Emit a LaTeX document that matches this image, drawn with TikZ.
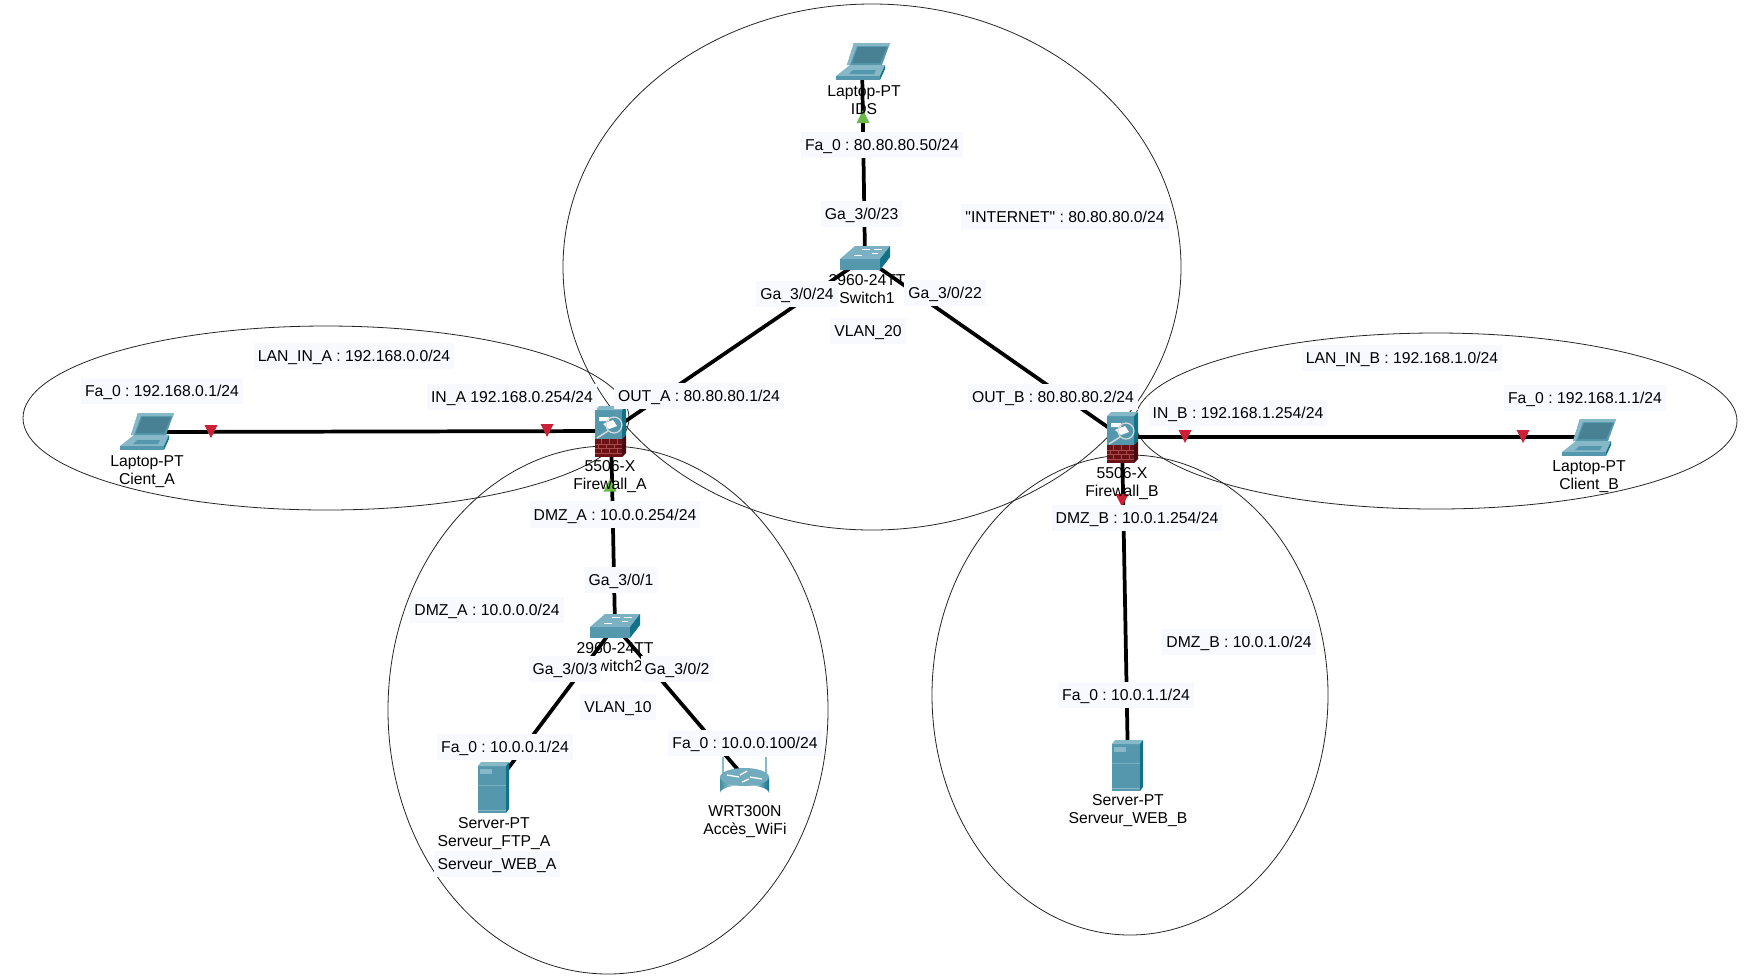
\documentclass[tikz,border=0pt]{standalone}
\usepackage{fontspec}
\setmainfont[Ligatures=TeXOff]{Liberation Sans}
\frenchspacing
\definecolor{tealmain}{HTML}{5598AE}
\definecolor{teallight}{HTML}{86B8C8}
\definecolor{tealdark}{HTML}{0F7289}
\definecolor{brick}{HTML}{6B1216}
\definecolor{brickdark}{HTML}{470B0E}
\definecolor{brickline}{HTML}{A84A4A}
\definecolor{labelbg}{HTML}{F8F9FF}
\definecolor{redmark}{HTML}{CB2036}
\definecolor{greenmark}{HTML}{6CB84A}
\tikzset{
  x=0.75pt,y=-0.75pt,
  zone/.style={draw=black!85,line width=0.6pt},
  wire/.style={draw=black,line width=2.8pt},
  netlabel/.style={fill=labelbg,inner xsep=3pt,inner ysep=0pt,minimum height=20.2pt,text depth=1.6pt,text height=10.4pt,font=\fontsize{11.8}{13.8}\selectfont},
  devlabel/.style={align=center,inner sep=0pt,yshift=-0.6pt,font=\fontsize{11.8}{13.6}\selectfont},
  lapicon/.pic={
    \fill[tealmain] (18,0)--(54,0)--(46,22)--(11,22)--cycle;
    \fill[teallight] (18,0)--(54,0)--(53,3)--(17,3)--cycle;
    \fill[teallight] (18,0)--(11,22)--(14,22)--(21,3)--cycle;
    \fill[tealmain!85!black] (22,4)--(51,4)--(44,20)--(16,20)--cycle;
    \fill[teallight] (14,22)--(49,22)--(44,33)--(0,33)--cycle;
    \fill[tealmain] (0,33)--(44,33)--(44,37)--(0,37)--cycle;
    \fill[tealdark] (44,33)--(49,22)--(49,26)--(44,37)--cycle;
    \fill[tealmain] (17,27)--(40,27)--(38,31)--(13,31)--cycle;
  },
  srvicon/.pic={
    \fill[tealmain] (0,4) rectangle (28,51);
    \fill[teallight] (0,4)--(3,0)--(31,0)--(28,4)--cycle;
    \fill[tealdark] (28,4)--(31,0)--(31,47)--(28,51)--cycle;
    \fill[teallight] (2,7) rectangle (14,12);
    \draw[teallight,line width=0.5pt] (0,48)--(28,48);
    \draw[teallight!70!tealmain,line width=0.3pt] (0,23)--(28,23);
  },
  swicon/.pic={
    \fill[tealmain] (0,13) rectangle (40,24);
    \fill[teallight!80!tealmain] (0,13)--(15,0)--(50,0)--(40,13)--cycle;
    \fill[tealdark] (40,13)--(50,0)--(50,11)--(40,24)--cycle;
    \draw[white,line width=0.6pt] (22,3)--(30,3) (34,3)--(42,3) (14,9)--(22,9) (32,7)--(38,7);
  },
  fwicon/.pic={
    \fill[tealmain] (0,4) rectangle (27,33);
    \fill[teallight] (0,4)--(4,0)--(31,0)--(27,4)--cycle;
    \fill[tealdark] (27,4)--(31,0)--(31,29)--(27,33)--cycle;
    \fill[white] (4,11)--(14,11)--(14,15)--(4,15)--cycle (8,18)--(18,14)--(22,20)--(14,23)--cycle;
    \draw[white!85!black,line width=0.9pt] (19,19) circle[radius=8];
    \draw[white!85!black,line width=1.1pt] (13,25)--(2,32);
    \fill[brick] (0,33) rectangle (27,51);
    \fill[brickdark] (27,33)--(31,29)--(31,47)--(27,51)--cycle;
    \draw[brickline,line width=0.3pt] (0,38)--(27,38) (0,42.5)--(27,42.5) (0,47)--(27,47)
      (6,33)--(6,38) (14,33)--(14,38) (22,33)--(22,38) (3,38)--(3,42.5) (11,38)--(11,42.5) (19,38)--(19,42.5)
      (6,42.5)--(6,47) (14,42.5)--(14,47) (22,42.5)--(22,47);
  },
  rticon/.pic={
    \fill[teallight] (2,0) rectangle (4,16);
    \fill[teallight] (45,0) rectangle (47,16);
    \shade[left color=tealdark!80,right color=tealdark,middle color=white] (0,20) -- (0,36) arc[start angle=180,end angle=360,x radius=24.5,y radius=8] -- (49,20) -- cycle;
    \fill[teallight!60!tealmain] (24.5,20) ellipse[x radius=24.5,y radius=9];
    \draw[white,line width=1pt] (7,18)--(19,20) (30,20)--(42,22) (22,25)--(29,22) (20,18)--(27,14);
  },
  downmark/.pic={\fill[redmark] (-6.5,-6.5)--(6.5,-6.5)--(0,6.5)--cycle;},
  upmark/.pic={\fill[greenmark] (-6.5,6.5)--(6.5,6.5)--(0,-6.5)--cycle;},
}
\begin{document}
\begin{tikzpicture}
\useasboundingbox (0,0) rectangle (1747,976);
\fill[white] (0,0) rectangle (1747,976);
% zones
\draw[zone] (872,267) ellipse[x radius=309,y radius=263];
\draw[zone] (326,418) ellipse[x radius=303,y radius=92];
\draw[zone] (608,710) ellipse[x radius=220,y radius=264];
\draw[zone] (1436,421) ellipse[x radius=301,y radius=88];
\draw[zone] (1130,695) ellipse[x radius=198,y radius=240];
% device anchors
\coordinate (fwA) at (611,431);
\coordinate (fwB) at (1122,437);
\coordinate (swOne) at (865,258);
\coordinate (swTwo) at (615,626);
\coordinate (ids) at (862,60);
\coordinate (clientA) at (147,432);
\coordinate (clientB) at (1589,437);
\coordinate (srvA) at (494,787);
\coordinate (srvB) at (1128,766);
\coordinate (wifi) at (745,778);
% connectors
\draw[wire] (clientA) -- (fwA);
\draw[wire] (fwB) -- (clientB);
\draw[wire] (fwA) -- (swOne);
\draw[wire] (fwB) -- (swOne);
\draw[wire] (ids) -- (swOne);
\draw[wire] (fwA) -- (swTwo);
\draw[wire] (swTwo) -- (srvA);
\draw[wire] (swTwo) -- (wifi);
\draw[wire] (fwB) -- (srvB);
% link marks
\pic at (211,431.5) {downmark};
\pic at (547,430.5) {downmark};
\pic at (1185,436.5) {downmark};
\pic at (1523,436.5) {downmark};
\pic at (1122,500.5) {downmark};
\pic at (863,116.5) {upmark};
\pic at (610,485) {upmark};
% icons
\pic at (836,43) {lapicon};
\pic at (120,413) {lapicon};
\pic at (1562,419) {lapicon};
\pic at (840,246) {swicon};
\pic at (590,614) {swicon};
\pic at (595,406) {fwicon};
\pic at (1107,412) {fwicon};
\pic at (478,762) {srvicon};
\pic at (1112,740) {srvicon};
\pic at (720,757) {rticon};
% device labels
\node[devlabel] (tIDS) at (864,99.5) {Laptop-PT\\IDS};
\node[devlabel] (tSwOne) at (867,288.5) {2960-24TT\\Switch1};
\node[devlabel] (tFwA) at (610,476) {5506-X\\Firewall\_A};
\node[devlabel] (tFwB) at (1122,482.5) {5506-X\\Firewall\_B};
\node[devlabel] (tCliA) at (147,470.5) {Laptop-PT\\Cient\_A};
\node[devlabel] (tCliB) at (1589,476) {Laptop-PT\\Client\_B};
\node[devlabel] (tSwTwo) at (615,656.5) {2960-24TT\\Switch2};
\node[devlabel] (tSrvA) at (494,832.5) {Server-PT\\Serveur\_FTP\_A};
\node[devlabel] (tWifi) at (745,820.5) {WRT300N\\Accès\_WiFi};
\node[devlabel] (tSrvB) at (1128,810) {Server-PT\\Serveur\_WEB\_B};
% network labels
\node[netlabel] (l1) at (354,356) {LAN\_IN\_A : 192.168.0.0/24};
\node[netlabel] (l2) at (162,391) {Fa\_0 : 192.168.0.1/24};
\node[netlabel] (l3) at (512,397) {IN\_A 192.168.0.254/24};
\node[netlabel] (l4) at (699,396) {OUT\_A : 80.80.80.1/24};
\node[netlabel] (l5) at (615,514.5) {DMZ\_A : 10.0.0.254/24};
\node[netlabel] (l6) at (621,580) {Ga\_3/0/1};
\node[netlabel] (l7) at (487,610) {DMZ\_A : 10.0.0.0/24};
\node[netlabel] (l8) at (565,669) {Ga\_3/0/3};
\node[netlabel] (l9) at (677,669) {Ga\_3/0/2};
\node[netlabel] (l10) at (618,707) {VLAN\_10};
\node[netlabel] (l11) at (505,747) {Fa\_0 : 10.0.0.1/24};
\node[netlabel] (l12) at (745,743) {Fa\_0 : 10.0.0.100/24};
\node[netlabel] (l13) at (497,864) {Serveur\_WEB\_A};
\node[netlabel] (l14) at (882,145) {Fa\_0 : 80.80.80.50/24};
\node[netlabel] (l15) at (861.5,214) {Ga\_3/0/23};
\node[netlabel] (l16) at (1065,217) {"INTERNET" : 80.80.80.0/24};
\node[netlabel] (l17) at (797,294) {Ga\_3/0/24};
\node[netlabel] (l18) at (945,293) {Ga\_3/0/22};
\node[netlabel] (l19) at (868,331) {VLAN\_20};
\node[netlabel] (l20) at (1053,397) {OUT\_B : 80.80.80.2/24};
\node[netlabel] (l21) at (1238,413) {IN\_B : 192.168.1.254/24};
\node[netlabel] (l22) at (1402,358) {LAN\_IN\_B : 192.168.1.0/24};
\node[netlabel] (l23) at (1585,398) {Fa\_0 : 192.168.1.1/24};
\node[netlabel] (l24) at (1137,518) {DMZ\_B : 10.0.1.254/24};
\node[netlabel] (l25) at (1239,642) {DMZ\_B : 10.0.1.0/24};
\node[netlabel] (l26) at (1126,695) {Fa\_0 : 10.0.1.1/24};
\end{tikzpicture}
\end{document}
